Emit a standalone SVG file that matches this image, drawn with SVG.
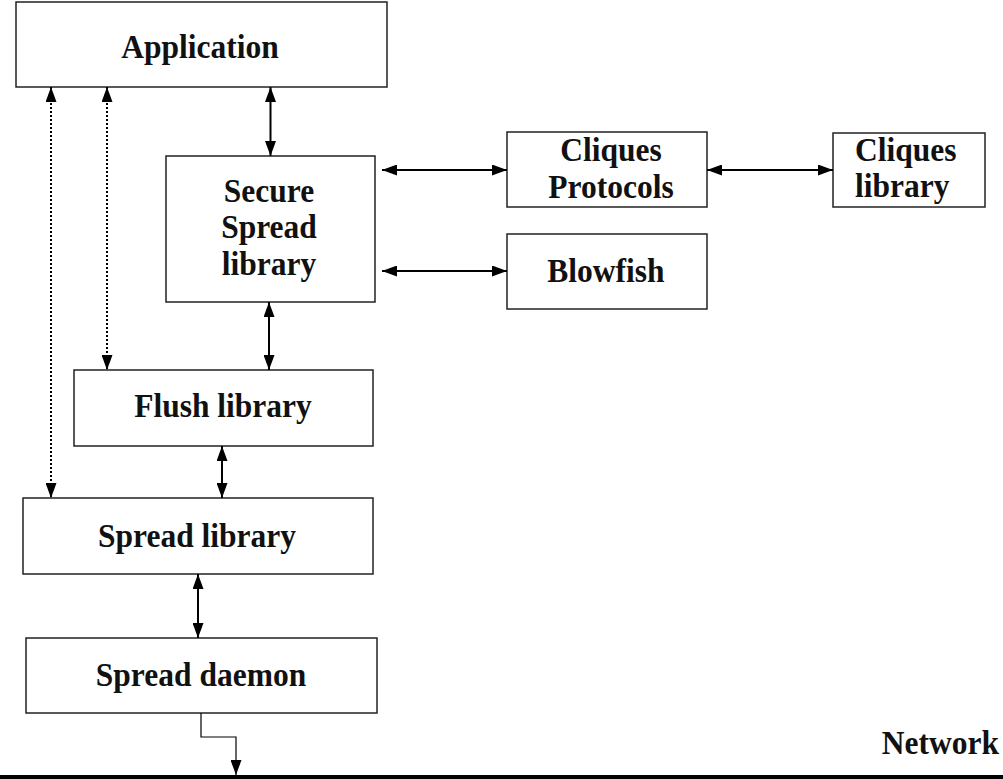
<svg xmlns="http://www.w3.org/2000/svg" width="1003" height="779" viewBox="0 0 1003 779">
<style>
.box{fill:#fff;stroke:#222;stroke-width:1.5}
.lbl{font-family:"Liberation Serif","Times New Roman",serif;font-weight:bold;font-size:31.5px;fill:#111;text-anchor:middle}
.st{text-anchor:start}
.en{text-anchor:end}
.solid{stroke:#000;stroke-width:2;fill:none}
.dot{stroke:#000;stroke-width:2;stroke-dasharray:2 2;fill:none}
.thin{stroke:#000;stroke-width:1.2;fill:none}
</style>
<defs>
<marker id="ah" viewBox="0 0 15 11" refX="15" refY="5.5" markerWidth="15" markerHeight="11" markerUnits="userSpaceOnUse" orient="auto-start-reverse">
<path d="M0,0 L15,5.5 L0,11 z" fill="#000"/>
</marker>
</defs>
<rect width="1003" height="779" fill="#fff"/>
<g id="application"><rect class="box" x="16" y="2" width="371" height="85"/><text class="lbl" transform="translate(200,58) scale(1,1.1)">Application</text></g>
<g id="secure-spread"><rect class="box" x="166" y="156" width="209" height="146"/><text class="lbl" transform="translate(269,202) scale(1,1.1)">Secure</text><text class="lbl" transform="translate(269,238) scale(1,1.1)">Spread</text><text class="lbl" transform="translate(269,275) scale(1,1.1)">library</text></g>
<g id="cliques-protocols"><rect class="box" x="507" y="132" width="200" height="75"/><text class="lbl" transform="translate(611,161) scale(1,1.1)">Cliques</text><text class="lbl" transform="translate(611,198) scale(1,1.1)">Protocols</text></g>
<g id="blowfish"><rect class="box" x="507" y="234" width="200" height="75"/><text class="lbl" transform="translate(606,282) scale(1,1.1)">Blowfish</text></g>
<g id="cliques-library"><rect class="box" x="833" y="133" width="152" height="74"/><text class="lbl st" transform="translate(855,161) scale(1,1.1)">Cliques</text><text class="lbl st" transform="translate(855,197) scale(1,1.1)">library</text></g>
<g id="flush"><rect class="box" x="74" y="370" width="299" height="76"/><text class="lbl" transform="translate(223,417) scale(1,1.1)">Flush library</text></g>
<g id="spread-library"><rect class="box" x="23" y="498" width="350" height="76"/><text class="lbl" transform="translate(197,547) scale(1,1.1)">Spread library</text></g>
<g id="spread-daemon"><rect class="box" x="26" y="638" width="351" height="75"/><text class="lbl" transform="translate(201,686) scale(1,1.1)">Spread daemon</text></g>
<g id="network"><rect x="0" y="775" width="1003" height="4" fill="#000"/><text class="lbl en" transform="translate(999,754) scale(1,1.1)">Network</text></g>
<g id="connectors">
<line class="solid" x1="270.5" y1="87" x2="270.5" y2="156" marker-start="url(#ah)" marker-end="url(#ah)"/>
<line class="solid" x1="382" y1="170" x2="507" y2="170" marker-start="url(#ah)" marker-end="url(#ah)"/>
<line class="solid" x1="382" y1="271" x2="507" y2="271" marker-start="url(#ah)" marker-end="url(#ah)"/>
<line class="solid" x1="707" y1="170" x2="833" y2="170" marker-start="url(#ah)" marker-end="url(#ah)"/>
<line class="solid" x1="269" y1="302" x2="269" y2="370" marker-start="url(#ah)" marker-end="url(#ah)"/>
<line class="solid" x1="222" y1="446" x2="222" y2="498" marker-start="url(#ah)" marker-end="url(#ah)"/>
<line class="solid" x1="198" y1="574" x2="198" y2="638" marker-start="url(#ah)" marker-end="url(#ah)"/>
<line class="dot" x1="51" y1="87" x2="51" y2="498" marker-start="url(#ah)" marker-end="url(#ah)"/>
<line class="dot" x1="107" y1="87" x2="107" y2="370" marker-start="url(#ah)" marker-end="url(#ah)"/>
<polyline class="thin" points="201,713 201,737 236,737 236,775" marker-end="url(#ah)"/>
</g>
</svg>
